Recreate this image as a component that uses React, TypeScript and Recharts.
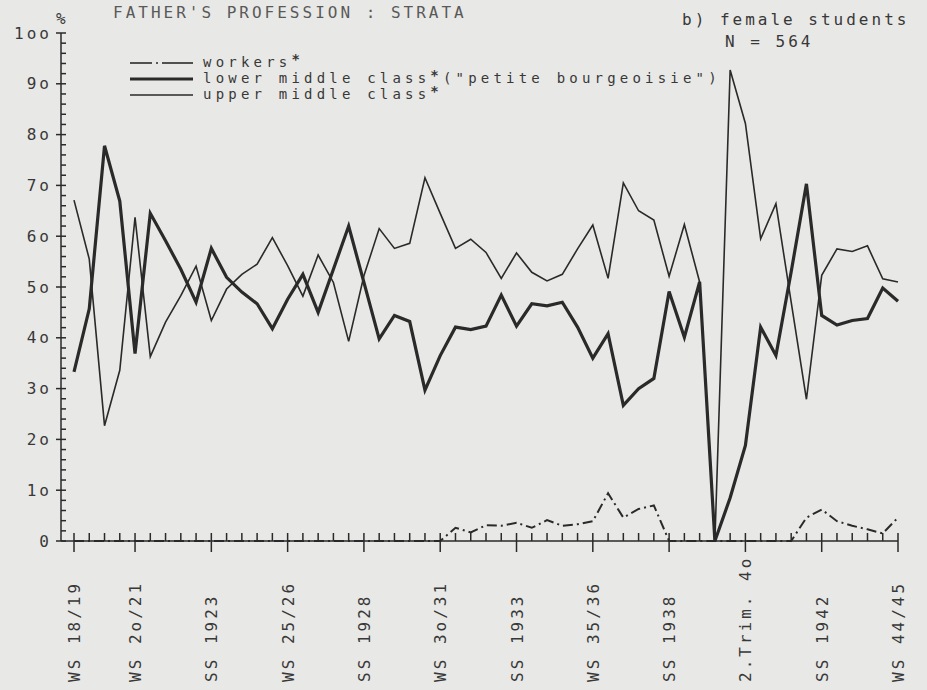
import { LineChart, Line, XAxis, YAxis } from 'recharts'

// semesters, one tick each; only the ones in tickLabels get a printed label
const semesters = [
  'WS 18/19', 'SS 1919', 'WS 19/20', 'SS 1920', 'WS 2o/21', 'SS 1921', 'WS 21/22', 'SS 1922', 'WS 22/23', 'SS 1923',
  'WS 23/24', 'SS 1924', 'WS 24/25', 'SS 1925', 'WS 25/26', 'SS 1926', 'WS 26/27', 'SS 1927', 'WS 27/28', 'SS 1928',
  'WS 28/29', 'SS 1929', 'WS 29/30', 'SS 1930', 'WS 3o/31', 'SS 1931', 'WS 31/32', 'SS 1932', 'WS 32/33', 'SS 1933',
  'WS 33/34', 'SS 1934', 'WS 34/35', 'SS 1935', 'WS 35/36', 'SS 1936', 'WS 36/37', 'SS 1937', 'WS 37/38', 'SS 1938',
  'WS 38/39', 'SS 1939', 'WS 39/40', '1.Trim. 4o', '2.Trim. 4o', '3.Trim. 4o', '1.Trim. 41', 'SS 1941', 'WS 41/42', 'SS 1942',
  'WS 42/43', 'SS 1943', 'WS 43/44', 'SS 1944', 'WS 44/45',
]

const tickLabels = [
  'WS 18/19', 'WS 2o/21', 'SS 1923', 'WS 25/26', 'SS 1928', 'WS 3o/31',
  'SS 1933', 'WS 35/36', 'SS 1938', '2.Trim. 4o', 'SS 1942', 'WS 44/45',
]

const workers = [
  0, 0, 0, 0, 0, 0, 0, 0, 0, 0,
  0, 0, 0, 0, 0, 0, 0, 0, 0, 0,
  0, 0, 0, 0, 0, 2.6, 1.7, 3.1, 3.0, 3.6,
  2.6, 4.1, 3.0, 3.3, 3.9, 9.4, 4.6, 6.3, 7.0, 0,
  0, 0, 0, 0, 0, 0, 0, 0, 4.6, 6.2,
  3.9, 3.0, 2.3, 1.5, 4.6,
]

const lowerMiddle = [
  33.3, 45.7, 77.8, 66.9, 36.9, 64.5, 59.1, 53.5, 47.0, 57.6,
  51.9, 49.0, 46.7, 41.8, 47.6, 52.5, 45.0, 53.5, 62.0, 50.9,
  39.8, 44.4, 43.2, 29.7, 36.5, 42.1, 41.6, 42.3, 48.4, 42.3,
  46.7, 46.3, 47.0, 42.1, 36.0, 40.8, 26.7, 30.0, 32.0, 49.1,
  40.1, 51.0, 0, 8.5, 18.8, 42.1, 36.5, 53.0, 70.3, 44.4,
  42.5, 43.4, 43.8, 49.8, 47.2,
]

const upperMiddle = [
  67.1, 55.5, 22.7, 33.6, 63.7, 36.3, 43.1, 48.3, 54.1, 43.4,
  49.6, 52.5, 54.5, 59.7, 54.2, 48.2, 56.3, 50.9, 39.3, 52.2,
  61.5, 57.6, 58.6, 71.5, 64.5, 57.6, 59.4, 56.8, 51.7, 56.7,
  52.9, 51.2, 52.5, 57.5, 62.2, 51.7, 70.5, 65.0, 63.2, 52.1,
  62.3, 51.0, 0, 92.7, 82.2, 59.5, 66.4, 47.0, 27.9, 52.3,
  57.5, 57.0, 58.1, 51.6, 51.0,
]

const yTicks = Array.from({ length: 51 }, (_, i) => i * 2)
const yTickLabels = ['0', '1o', '2o', '3o', '4o', '5o', '6o', '7o', '8o', '9o', '1oo']

const data = semesters.map((s, i) => ({
  semester: s,
  workers: workers[i],
  lower: lowerMiddle[i],
  upper: upperMiddle[i],
}))

const FONT = '"DejaVu Sans Mono", monospace'
const INK = '#2a2a2a'
// plotter lettering: narrow glyphs, wide spacing (~12.6px per character)
const TEXT = { fontFamily: FONT, fontSize: 16, letterSpacing: 3, fill: '#383838' }
const LEGEND_TEXT = { fontFamily: FONT, fontSize: 14, letterSpacing: 4.2, fill: '#383838' }

function XTick({ x, y, payload }: any) {
  const major = tickLabels.includes(payload.value)
  return (
    <g>
      <line x1={x} x2={x} y1={y - 8} y2={major ? y + 11 : y} stroke={INK} strokeWidth={1.5} />
      {major && (
        <text transform={`translate(${x + 6},682) rotate(-90)`} {...TEXT}>
          {payload.value}
        </text>
      )}
    </g>
  )
}

function YTick({ x, y, payload }: any) {
  const v = payload.value
  const major = v % 10 === 0
  return (
    <g>
      <line x1={major ? x - 5 : x} x2={x + 5} y1={y} y2={y} stroke={INK} strokeWidth={1.5} />
      {major && (
        <text x={x - 9} y={y} dy="0.35em" textAnchor="end" {...TEXT}>
          {yTickLabels[v / 10]}
        </text>
      )}
    </g>
  )
}

function Star() {
  return <tspan fontWeight="bold" dy={-3}>*</tspan>
}

export default function App() {
  return (
    <div style={{ position: 'absolute', left: 0, top: 0, width: 927, height: 690, background: '#e8e8e6' }}>
      <LineChart width={927} height={690} data={data} margin={{ top: 33, right: 29, bottom: 0, left: 6 }}>
        <XAxis
          dataKey="semester"
          interval={0}
          height={149}
          padding={{ left: 13, right: 0 }}
          tickSize={0}
          tickMargin={0}
          tickLine={false}
          axisLine={{ stroke: INK, strokeWidth: 1.5 }}
          tick={<XTick />}
        />
        <YAxis
          width={55}
          domain={[0, 100]}
          ticks={yTicks}
          interval={0}
          tickSize={0}
          tickMargin={0}
          tickLine={false}
          axisLine={{ stroke: INK, strokeWidth: 1.5 }}
          tick={<YTick />}
        />
        <Line type="linear" dataKey="upper" stroke={INK} strokeWidth={1.6} dot={false} isAnimationActive={false} />
        <Line type="linear" dataKey="lower" stroke={INK} strokeWidth={3.2} dot={false} isAnimationActive={false} />
        <Line type="linear" dataKey="workers" stroke={INK} strokeWidth={2} strokeDasharray="10 4 2 4" dot={false} isAnimationActive={false} />
      </LineChart>
      <svg width={927} height={690} style={{ position: 'absolute', left: 0, top: 0, pointerEvents: 'none' }}>
        <text x={56} y={24} {...TEXT}>%</text>
        <text x={113} y={18} {...TEXT} fill="#595959">FATHER'S PROFESSION : STRATA</text>
        <text x={682} y={25} {...TEXT}>b) female students</text>
        <text x={725} y={47} {...TEXT}>N = 564</text>

        <line x1={130} x2={152} y1={63} y2={63} stroke={INK} strokeWidth={1.6} />
        <line x1={156} x2={158} y1={63} y2={63} stroke={INK} strokeWidth={1.6} />
        <line x1={162} x2={193} y1={63} y2={63} stroke={INK} strokeWidth={1.6} />
        <text x={203} y={67} {...LEGEND_TEXT}>workers<Star /></text>

        <line x1={130} x2={193} y1={79} y2={79} stroke={INK} strokeWidth={3.2} />
        <text x={203} y={83} {...LEGEND_TEXT}>lower middle class<Star /><tspan dy={3}>("petite bourgeoisie")</tspan></text>

        <line x1={130} x2={193} y1={95} y2={95} stroke={INK} strokeWidth={1.6} />
        <text x={203} y={99} {...LEGEND_TEXT}>upper middle class<Star /></text>
      </svg>
    </div>
  )
}
